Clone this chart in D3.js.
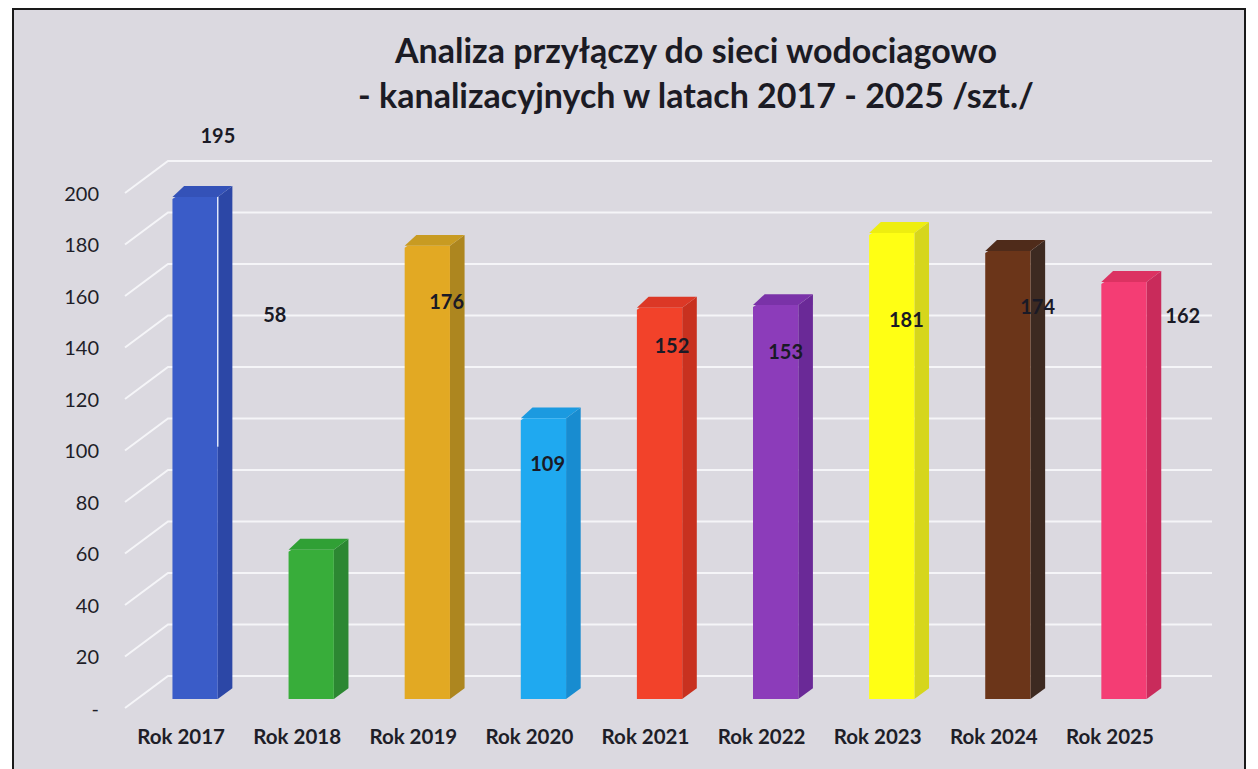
<!DOCTYPE html>
<html>
<head>
<meta charset="utf-8">
<script src="https://cdn.jsdelivr.net/npm/d3@7"></script>
<style>
  html, body { margin: 0; padding: 0; background: #ffffff; }
  svg { display: block; }
</style>
</head>
<body>
<svg id="chart" width="1258" height="769"></svg>
<script>
// ---- data ----
const categories = ["Rok 2017", "Rok 2018", "Rok 2019", "Rok 2020", "Rok 2021", "Rok 2022", "Rok 2023", "Rok 2024", "Rok 2025"];
const values = [195, 58, 176, 109, 152, 153, 181, 174, 162];
const tickValues = [0, 20, 40, 60, 80, 100, 120, 140, 160, 180, 200];
const tickLabels = ["-", "20", "40", "60", "80", "100", "120", "140", "160", "180", "200"];
const titleLines = ["Analiza przyłączy do sieci wodociagowo", "- kanalizacyjnych w latach 2017 - 2025 /szt./"];
// where Excel placed each data label (value-axis units and band-step shift)
const labelAtValue = [222, 152.5, 157.7, 94.8, 140.6, 138.3, 150.7, 155.6, 152.2];
const labelShift = [0.80, 0.29, 0.77, 0.64, 0.71, 0.69, 0.73, 0.86, 1.11];

const frontColors = ["#3a5cc8", "#38ad3a", "#e2a923", "#1fa9f0", "#f2422a", "#8c3cba", "#ffff14", "#6b3519", "#f43d74"];
const sideColors  = ["#2c47a6", "#2c8732", "#ad861f", "#188cd0", "#c8311f", "#6a2997", "#d6d61c", "#3d2a21", "#c92b5b"];
const topColors   = ["#3452b8", "#30a035", "#c89b22", "#1b9ae0", "#dc3826", "#7a32a8", "#eeee10", "#4f2b1a", "#dc3262"];

// ---- layout ----
const svg = d3.select("#chart");
const W = 1258, H = 769;
const frame = {x0: 13, y0: 9, x1: 1245};
const depth = {dx: 43, dy: -32};          // full floor depth vector
const barNear = 0.28, barFar = 0.62;      // bar depth extent (fraction of floor depth)

const x = d3.scaleBand().domain(categories).range([125, 1170]).paddingInner(0).paddingOuter(0);
const barW = x.step() * 0.39;
const y = d3.scaleLinear().domain([0, 200]).range([708, 193]);
const gridRight = 1212;

// background
svg.append("rect").attr("x", 0).attr("y", 0).attr("width", W).attr("height", H).attr("fill", "#ffffff");
svg.append("rect").attr("x", frame.x0).attr("y", frame.y0).attr("width", frame.x1 - frame.x0).attr("height", H - frame.y0)
  .attr("fill", "#dbd9e0");
svg.append("path")
  .attr("d", `M${frame.x0},${H} L${frame.x0},${frame.y0} L${frame.x1},${frame.y0} L${frame.x1},${H}`)
  .attr("fill", "none").attr("stroke", "#1a1a1a").attr("stroke-width", 2);

// title
const title = svg.append("text").attr("text-anchor", "middle")
  .attr("font-family", "Lato, 'Open Sans', sans-serif").attr("font-weight", 700)
  .attr("font-size", 34).attr("fill", "#1b1b24");
titleLines.forEach((t, i) => {
  title.append("tspan").attr("x", 696).attr("y", 63 + i * 45).text(t);
});

// gridlines (3D: diagonal on left wall + horizontal on back wall)
const grid = svg.append("g");
tickValues.forEach(v => {
  const yf = y(v);
  grid.append("path")
    .attr("d", `M${x.range()[0]},${yf} L${x.range()[0] + depth.dx},${yf + depth.dy} L${gridRight},${yf + depth.dy}`)
    .attr("fill", "none").attr("stroke", "#f5f5f8").attr("stroke-width", 2);
});

// y-axis tick labels
const yAxisG = svg.append("g").attr("transform", "translate(99,0)")
  .call(d3.axisLeft(y).tickValues(tickValues).tickSize(0).tickPadding(0)
    .tickFormat((d, i) => tickLabels[i]));
yAxisG.select(".domain").remove();
yAxisG.selectAll("text").attr("font-family", "Lato, 'Open Sans', sans-serif")
  .attr("font-size", 20).attr("fill", "#1e1e28").attr("dy", "0.35em");

// bars
const bars = svg.append("g");
categories.forEach((c, i) => {
  const v = values[i];
  const ox = depth.dx * barNear, oy = depth.dy * barNear;
  const bx = depth.dx * (barFar - barNear), by = depth.dy * (barFar - barNear);
  const left = x(c) + (x.step() - barW) / 2 + ox;
  const right = left + barW;
  const bottom = y(0) + oy;
  const top = y(v) + oy;
  const g = bars.append("g");
  // side face
  g.append("path")
    .attr("d", `M${right},${bottom} L${right + bx},${bottom + by} L${right + bx},${top + by} L${right},${top} Z`)
    .attr("fill", sideColors[i]);
  // top face
  g.append("path")
    .attr("d", `M${left},${top} L${left + bx * 0.8},${top + by} L${right + bx},${top + by} L${right},${top} Z`)
    .attr("fill", topColors[i]);
  // front face
  g.append("path")
    .attr("d", `M${left},${bottom} L${left},${top + 2} L${left + 3},${top} L${right},${top} L${right},${bottom} Z`)
    .attr("fill", frontColors[i]);
  if (i === 0) {
    g.append("line").attr("x1", right).attr("x2", right).attr("y1", top).attr("y2", y(98) + oy)
      .attr("stroke", "#dfe6fa").attr("stroke-width", 1.5);
  }
});

// data labels
const labels = svg.append("g");
categories.forEach((c, i) => {
  labels.append("text")
    .attr("x", x(c) + x.step() * labelShift[i])
    .attr("y", y(labelAtValue[i]))
    .attr("dy", "0.35em")
    .attr("text-anchor", "middle")
    .attr("font-family", "Lato, 'Open Sans', sans-serif").attr("font-weight", 700)
    .attr("font-size", 20).attr("fill", "#1a1a26")
    .text(values[i]);
});

// category labels
const xAxisG = svg.append("g").attr("transform", `translate(-2,${737})`)
  .call(d3.axisBottom(x).tickSize(0).tickPadding(0));
xAxisG.select(".domain").remove();
xAxisG.selectAll("text").attr("font-family", "Lato, 'Open Sans', sans-serif")
  .attr("font-weight", 700).attr("font-size", 20.5).attr("fill", "#1e1e28").attr("dy", "0.35em");
</script>
</body>
</html>
